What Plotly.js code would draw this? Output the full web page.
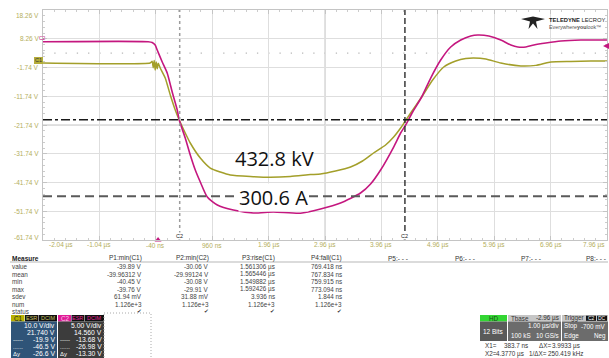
<!DOCTYPE html>
<html><head><meta charset="utf-8">
<script src="https://cdn.plot.ly/plotly-3.0.1.min.js"></script>
<style>html,body{margin:0;padding:0;background:#fff;}#chart{width:609px;height:358px;}</style>
</head><body><div id="chart"></div>
<script>
// ---------- data ----------
const c1Time = [-2.04, -0.14, -0.104, -0.086, -0.068, -0.051, -0.033, -0.015, 0.003, 0.038, 0.127, 0.217, 0.305, 0.376, 0.482, 0.571, 0.749, 0.926, 1.104, 1.281, 1.637, 1.992, 2.347, 2.702, 2.88, 3.146, 3.413, 3.626, 3.821, 4.034, 4.177, 4.301, 4.372, 4.479, 4.674, 4.869, 5.065, 5.278, 5.456, 5.598, 5.811, 6.077, 6.432, 6.699, 6.965, 7.32, 7.675, 7.96];
const c1Volts = [-0.17, -0.17, 0.4, -1.8, 0.7, -2.6, 0.2, -2.2, -0.3, -1.91, -5.39, -11.3, -16.52, -20.0, -24.52, -28.0, -33.22, -36.7, -38.09, -39.13, -39.65, -39.89, -39.65, -39.0, -38.78, -37.74, -36.35, -34.26, -31.48, -28.7, -25.91, -22.78, -20.7, -17.57, -12.0, -6.09, -1.57, 0.52, 1.39, 1.56, 1.22, -0.17, -1.22, -1.0, 0.17, 0.35, 0.52, 0.52];
const c2Time = [-2.04, -0.175, -0.104, -0.051, -0.015, 0.074, 0.162, 0.251, 0.34, 0.376, 0.482, 0.571, 0.66, 0.749, 0.873, 1.051, 1.335, 1.69, 2.045, 2.525, 2.88, 3.235, 3.59, 3.768, 3.946, 4.177, 4.301, 4.39, 4.514, 4.674, 4.834, 5.011, 5.189, 5.367, 5.544, 5.669, 5.864, 6.077, 6.255, 6.379, 6.521, 6.663, 6.876, 7.143, 7.498, 7.96];
const c2Volts = [-0.22, -0.22, -0.36, -0.8, -1.67, -3.75, -5.67, -8.97, -12.1, -13.84, -16.97, -19.93, -22.54, -24.62, -27.23, -28.62, -29.49, -30.01, -29.84, -30.06, -29.32, -28.28, -26.54, -24.97, -22.54, -18.54, -16.1, -14.71, -12.45, -9.84, -6.54, -3.41, -1.14, 0.07, 0.77, 0.94, 0.77, 0.07, -0.8, -1.14, -1.14, -0.8, -0.45, -0.1, 0.07, 0.07];

const xTickVals = [-2.04, -1.04, -0.04, 0.96, 1.96, 2.96, 3.96, 4.96, 5.96, 6.96, 7.96];
const xTickLabels = ['-2.04 µs', '-1.04 µs', '-40 ns', '960 ns', '1.96 µs', '2.96 µs', '3.96 µs', '4.96 µs', '5.96 µs', '6.96 µs', '7.96 µs'];
const yTickVals = [18.26, 8.26, -1.74, -11.74, -21.74, -31.74, -41.74, -51.74, -61.74];
const yTickLabels = ['18.26 V', '8.26 V', '-1.74 V', '-11.74 V', '-21.74 V', '-31.74 V', '-41.74 V', '-51.74 V', '-61.74 V'];

const cursorX1 = 0.3837, cursorX2 = 4.377;   // µs
const cursorY1 = -19.9, cursorY2 = -46.5;    // V (C1)
const triggerTime = 0;
const overlayLabels = ['432.8 kV', '300.6 A'];

const measureHeaders = ['P1:min(C1)', 'P2:min(C2)', 'P3:rise(C1)', 'P4:fall(C1)', 'P5:- - -', 'P6:- - -', 'P7:- - -', 'P8:- - -'];
const measureRows = ['value', 'mean', 'min', 'max', 'sdev', 'num', 'status'];
const p1Values = ['-39.89 V', '-39.96312 V', '-40.45 V', '-39.76 V', '61.94 mV', '1.126e+3', '✔'];
const p2Values = ['-30.06 V', '-29.99124 V', '-30.08 V', '-29.91 V', '31.88 mV', '1.126e+3', '✔'];
const p3Values = ['1.561306 µs', '1.565446 µs', '1.549882 µs', '1.592426 µs', '3.936 ns', '1.126e+3', '✔'];
const p4Values = ['769.418 ns', '767.834 ns', '759.915 ns', '773.094 ns', '1.844 ns', '1.126e+3', '✔'];

const c1Info = ['10.0 V/div', '21.740 V', '-19.9 V', '-46.5 V', '-26.6 V'];
const c2Info = ['5.00 V/div', '14.560 V', '-13.68 V', '-26.98 V', '-13.30 V'];
const infoLeft = ['', '', '-----', '......', 'Δy'];

// ---------- helpers ----------
const FONT = 'Liberation Sans, Arial, sans-serif';
const L = 43, T = 10, W = 564, H = 230;
const px = x => (x - L) / W;
const py = y => (T + H - y) / H;
const OLIVE = '#a39f2a', MAG = '#c4177f', TICKC = '#b4ae5c';

const annotations = [];
const shapes = [];
function txt(text, x, y, o) {
  o = o || {};
  annotations.push(Object.assign({
    text: text, xref: 'paper', yref: 'paper', x: px(x), y: py(y),
    xanchor: o.anchor || 'left', yanchor: 'middle', showarrow: false, borderpad: 0,
    font: { family: o.family || FONT, size: o.size || 6.5, color: o.color || '#333' }
  }, o.extra || {}));
}
function rect(x0, y0, x1, y1, fill, line) {
  shapes.push({ type: 'rect', xref: 'paper', yref: 'paper', x0: px(x0), x1: px(x1), y0: py(y0), y1: py(y1),
    fillcolor: fill, line: line || { width: 0 }, layer: 'above' });
}

// x tick labels
xTickVals.forEach((v, i) => {
  annotations.push({ text: xTickLabels[i], xref: 'x', yref: 'paper', x: v, y: py(245),
    xanchor: i === 0 ? 'left' : (i === xTickVals.length - 1 ? 'right' : 'center'), xshift: i === 0 ? 4 : 0,
    yanchor: 'middle', showarrow: false, font: { family: FONT, size: 6.5, color: TICKC } });
});
// y tick labels
yTickVals.forEach((v, i) => {
  annotations.push({ text: yTickLabels[i], xref: 'paper', yref: 'y', x: px(41), y: v,
    xanchor: 'right', yanchor: 'middle', showarrow: false,
    yshift: i === 0 ? -5 : (i === yTickVals.length - 1 ? 3 : 0),
    font: { family: FONT, size: 6.5, color: TICKC } });
});

// overlay labels
annotations.push({ text: overlayLabels[0], xref: 'paper', yref: 'paper', x: px(274), y: py(158), xanchor: 'center', yanchor: 'middle',
  showarrow: false, font: { family: 'Open Sans, Liberation Sans, sans-serif', size: 20, color: '#111' } });
annotations.push({ text: overlayLabels[1], xref: 'paper', yref: 'paper', x: px(273), y: py(197), xanchor: 'center', yanchor: 'middle',
  showarrow: false, bgcolor: '#ffffff', borderpad: 0, font: { family: 'Open Sans, Liberation Sans, sans-serif', size: 20, color: '#111' } });

// cursor labels at bottom
[cursorX1, cursorX2].forEach(cx => {
  annotations.push({ text: 'C2', xref: 'x', yref: 'paper', x: cx, y: py(236), xanchor: 'center', yanchor: 'middle',
    showarrow: false, bgcolor: '#fff', borderpad: 0, font: { family: FONT, size: 5.5, color: '#222' } });
});

// channel markers
rect(34, 57, 43, 64, '#b5ad3a');
txt('C1', 38.5, 60.5, { anchor: 'center', size: 5.5, color: '#333' });
txt('C2', 42, 38, { anchor: 'center', size: 5, color: MAG });
shapes.push({ type: 'path', xref: 'paper', yref: 'paper', layer: 'above',
  path: `M ${px(603)},${py(46)} L ${px(609)},${py(43)} L ${px(609)},${py(49)} Z`, fillcolor: MAG, line: { width: 0 } });

// logo
shapes.push({ type: 'path', xref: 'paper', yref: 'paper', layer: 'above', fillcolor: '#222', line: { width: 0 },
  path: `M ${px(521)},${py(19)} L ${px(533)},${py(16.5)} L ${px(545)},${py(19)} L ${px(536)},${py(21.5)} L ${px(537.5)},${py(29)} L ${px(533)},${py(23.5)} L ${px(528.5)},${py(29)} L ${px(530)},${py(21.5)} Z` });
txt('<b>TELEDYNE</b> LECROY', 548, 20, { size: 5.8, color: '#222' });
txt('Everywhere<b>you</b>look™', 548, 26.5, { size: 5.3, color: '#555' });

// measurement table
const cols = [143, 209.5, 276, 342.5, 409, 475.5, 542, 607];
const rowY = [266.5, 274, 281.5, 289, 296.5, 304, 311.3];
txt('<b>Measure</b>', 11, 258, { size: 6.5, color: '#222' });
measureHeaders.forEach((h, i) => txt(h, cols[i], 258, { anchor: 'right', size: 6.5, color: '#333' }));
shapes.push({ type: 'line', xref: 'paper', yref: 'paper', x0: px(10), x1: px(608), y0: py(262), y1: py(262), line: { color: '#999', width: 0.7 } });
measureRows.forEach((r, j) => {
  txt(r, 11, rowY[j], { size: 6.3, color: '#444' });
  [p1Values, p2Values, p3Values, p4Values].forEach((col, i) => {
    txt(col[j], cols[i], rowY[j], { anchor: 'right', size: j === 6 ? 5.5 : 6.3, color: '#444', family: j === 6 ? 'DejaVu Sans' : FONT });
  });
});

// channel boxes
const hy0 = 315, hy1 = 321.5, hmid = 318.3;
rect(11, hy0, 24.5, hy1, '#b8b000');
txt('C1', 13, hmid, { size: 6.3, color: '#222' });
rect(25, hy0, 38, hy1, '#111'); txt('ESR', 31.5, hmid, { anchor: 'center', size: 5.5, color: '#c8c060' });
rect(38.5, hy0, 57, hy1, '#111'); txt('DCIM', 47.75, hmid, { anchor: 'center', size: 5.5, color: '#c8c060' });
rect(11, hy1, 57, 358, '#2f5478');
rect(58, hy0, 71, hy1, '#e01c96');
txt('C2', 60, hmid, { size: 6.3, color: '#f8c8e8' });
rect(71.5, hy0, 84, hy1, '#111'); txt('ESR', 77.75, hmid, { anchor: 'center', size: 5.5, color: '#e02898' });
rect(84.5, hy0, 104, hy1, '#111'); txt('DCIM', 94.25, hmid, { anchor: 'center', size: 5.5, color: '#e02898' });
rect(58, hy1, 104, 358, '#3c3c3c');
const infoY = [325.8, 332.8, 339.8, 346.8, 353.8];
c1Info.forEach((s, i) => txt(s, 56, infoY[i], { anchor: 'right', size: 6.8, color: '#fff' }));
c2Info.forEach((s, i) => txt(s, 103, infoY[i], { anchor: 'right', size: 6.8, color: '#fff' }));
infoLeft.forEach((s, i) => { if (s) { txt(s, 12, infoY[i], { size: 6, color: '#fff' }); txt(s, 59, infoY[i], { size: 6, color: '#fff' }); } });
shapes.push({ type: 'rect', xref: 'paper', yref: 'paper', x0: px(104), x1: px(151), y0: py(313), y1: py(358.5),
  line: { color: '#aaa', width: 1, dash: '1px,2px' }, fillcolor: 'rgba(0,0,0,0)' });

// acquisition boxes
const ay0 = 315, ay1 = 321.5, amid = 318.3, ab = 341;
rect(480, ay0, 507, ay1, '#33d633'); txt('HD', 493.5, amid, { anchor: 'center', size: 6.3, color: '#1a4a1a' });
rect(480, ay1, 507, ab, '#5a5a5a'); txt('12 Bits', 493.5, 331, { anchor: 'center', size: 6.5, color: '#fff' });
rect(508, ay0, 561, ay1, '#c6c6c6'); txt('Tbase', 510, amid, { size: 6.3, color: '#333' }); txt('-2.96 µs', 560, amid, { anchor: 'right', size: 6.3, color: '#333' });
rect(508, ay1, 561, ab, '#6c6c6c'); txt('1.00 µs/div', 560, 326, { anchor: 'right', size: 6.3, color: '#fff' });
txt('100 kS', 510, 335.5, { size: 6.3, color: '#fff' }); txt('10 GS/s', 560, 335.5, { anchor: 'right', size: 6.3, color: '#fff' });
rect(562, ay0, 608, ay1, '#c6c6c6'); txt('Trigger', 563, amid, { size: 6.3, color: '#333' });
rect(586, ay0 + 0.7, 596, ay1 - 0.7, '#111'); txt('C2', 591, amid, { anchor: 'center', size: 5, color: '#fff' });
rect(597, ay0 + 0.7, 607, ay1 - 0.7, '#111'); txt('DC', 602, amid, { anchor: 'center', size: 5, color: '#fff' });
rect(562, ay1, 608, ab, '#6c6c6c');
txt('Stop', 563, 326, { size: 6.3, color: '#fff' }); txt('-700 mV', 607, 326, { anchor: 'right', size: 6.3, color: '#fff' });
txt('Edge', 563, 335.5, { size: 6.3, color: '#fff' }); txt('Neg', 607, 335.5, { anchor: 'right', size: 6.3, color: '#fff' });
txt('X1=', 484, 345.5, { size: 6.3, color: '#333' }); txt('383.7 ns', 529, 345.5, { anchor: 'right', size: 6.3, color: '#333' });
txt('ΔX=', 538, 345.5, { size: 6.3, color: '#333' }); txt('3.9933 µs', 581, 345.5, { anchor: 'right', size: 6.3, color: '#333' });
txt('X2=', 484, 353.5, { size: 6.3, color: '#333' }); txt('4.3770 µs', 525, 353.5, { anchor: 'right', size: 6.3, color: '#333' });
txt('1/ΔX=', 528, 353.5, { size: 6.3, color: '#333' }); txt('250.419 kHz', 584, 353.5, { anchor: 'right', size: 6.3, color: '#333' });

// grid accents and cursors
shapes.push({ type: 'line', xref: 'x', yref: 'paper', x0: 2.96, x1: 2.96, y0: 0, y1: 1, line: { color: '#c4c4c4', width: 1 }, layer: 'below' });
shapes.push({ type: 'line', xref: 'paper', yref: 'y', x0: 0, x1: 1, y0: -21.74, y1: -21.74, line: { color: '#c4c4c4', width: 1 }, layer: 'below' });
shapes.push({ type: 'line', xref: 'paper', yref: 'y', x0: 0, x1: 1, y0: 3.26, y1: 3.26, line: { color: '#b8b8b8', width: 1.2, dash: '1.3px,9.96px' }, layer: 'below' });
shapes.push({ type: 'line', xref: 'x', yref: 'paper', x0: cursorX1, x1: cursorX1, y0: 0, y1: 1, line: { color: '#9c9c9c', width: 1.5, dash: '3px,3px' } });
shapes.push({ type: 'line', xref: 'x', yref: 'paper', x0: cursorX2, x1: cursorX2, y0: 0, y1: 1, line: { color: '#3a3a3a', width: 1.5, dash: '6px,3px' } });
shapes.push({ type: 'line', xref: 'paper', yref: 'y', x0: 0, x1: 1, y0: cursorY1, y1: cursorY1, line: { color: '#1a1a1a', width: 1.4, dash: 'dashdot' } });
shapes.push({ type: 'line', xref: 'paper', yref: 'y', x0: 0, x1: 1, y0: cursorY2, y1: cursorY2, line: { color: '#5a5a5a', width: 2, dash: '9px,5px' } });

const traces = [
  { x: c1Time, y: c1Volts, type: 'scatter', mode: 'lines', name: 'C1', yaxis: 'y',
    line: { color: OLIVE, width: 1.5, shape: 'spline', smoothing: 0.5 }, hoverinfo: 'skip' },
  { x: c2Time, y: c2Volts, type: 'scatter', mode: 'lines', name: 'C2', yaxis: 'y2',
    line: { color: MAG, width: 1.6, shape: 'spline', smoothing: 0.6 }, hoverinfo: 'skip' },
  { x: [triggerTime], y: [-61.74], type: 'scatter', mode: 'markers', yaxis: 'y', cliponaxis: false,
    marker: { symbol: 'triangle-up', size: 6, color: MAG }, hoverinfo: 'skip' }
];

const layout = {
  width: 609, height: 358,
  margin: { l: L, r: 609 - L - W, t: T, b: 358 - T - H, pad: 0 },
  paper_bgcolor: '#fff', plot_bgcolor: '#fff', showlegend: false,
  font: { family: FONT },
  xaxis: { range: [-2.04, 7.96], tickvals: xTickVals, showticklabels: false, showgrid: true, gridcolor: '#dedede', gridwidth: 1,
    zeroline: false, showline: true, linecolor: '#c4c4c4', mirror: 'ticks', ticks: 'inside', ticklen: 4, tickcolor: '#c4c4c4',
    minor: { dtick: 0.2, tick0: -2.04, ticks: 'inside', ticklen: 2, tickcolor: '#cccccc', showgrid: false }, fixedrange: true },
  yaxis: { range: [-61.74, 18.26], tickvals: yTickVals, showticklabels: false, showgrid: true, gridcolor: '#dedede', gridwidth: 1,
    zeroline: false, showline: true, linecolor: '#c4c4c4', mirror: 'ticks', ticks: 'inside', ticklen: 4, tickcolor: '#c4c4c4',
    minor: { dtick: 2, tick0: -61.74, ticks: 'inside', ticklen: 2, tickcolor: '#cccccc', showgrid: false }, fixedrange: true },
  yaxis2: { range: [-34.71, 5.29], overlaying: 'y', visible: false, fixedrange: true },
  shapes: shapes, annotations: annotations
};

Plotly.newPlot('chart', traces, layout, { staticPlot: true, displayModeBar: false });
</script>
</body></html>
